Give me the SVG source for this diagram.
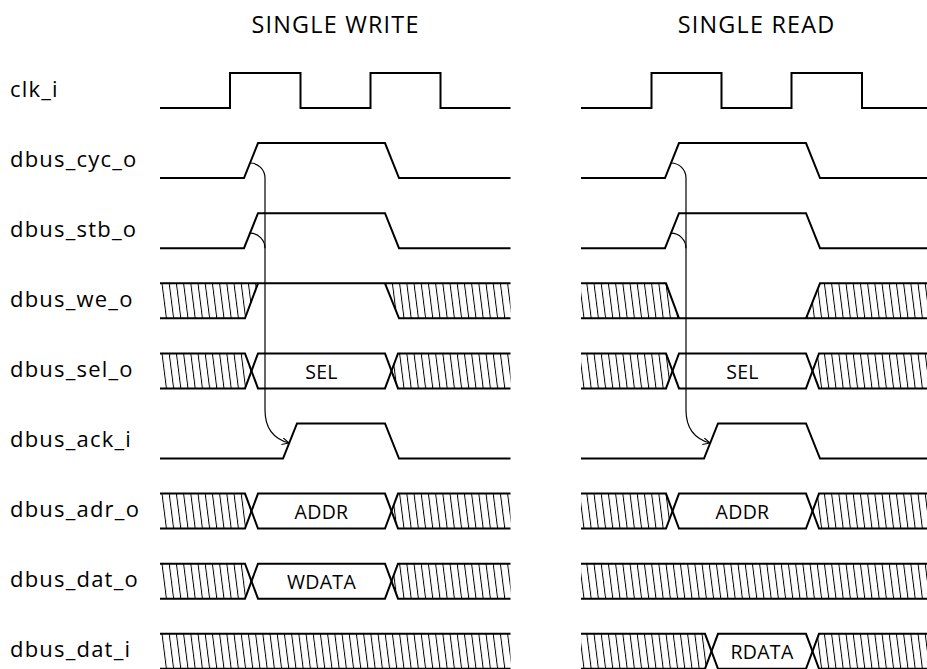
<svg xmlns="http://www.w3.org/2000/svg" width="927" height="669" viewBox="0 0 927 669">
<style>
text{font-family:"Open Sans","Noto Sans","DejaVu Sans",sans-serif;fill:#000}
.title{font-size:23.4px;letter-spacing:1.2px;text-anchor:middle}
.lbl{font-size:22px;letter-spacing:1.2px}
.val{font-size:19.5px;letter-spacing:0.3px;text-anchor:middle}
.sig{fill:none;stroke:#000;stroke-width:2;stroke-linejoin:miter}
.hatch{fill:url(#hatch);stroke:none}
.conn{fill:none;stroke:#000;stroke-width:1.2}
</style>
<defs>
<pattern id="hatch" patternUnits="userSpaceOnUse" width="7.2" height="10" patternTransform="translate(161.5,0) skewX(7.2)">
<line x1="0.5" y1="-1" x2="0.5" y2="11" stroke="#000" stroke-width="1"/>
</pattern>
<marker id="arr" markerUnits="userSpaceOnUse" markerWidth="10" markerHeight="10" refX="7" refY="3.5" orient="auto">
<path d="M0,0 L7,3.5 L0,7" fill="none" stroke="#000" stroke-width="1.1"/>
</marker>
</defs>
<rect width="927" height="669" fill="#fff"/>
<g id="titles">
<text class="title" x="335.6" y="33.3">SINGLE WRITE</text>
<text class="title" x="756.6" y="33.3">SINGLE READ</text>
</g>
<g id="clk_i" transform="translate(0,73)">
<text class="lbl" x="10" y="23.6">clk_i</text>
<path class="sig" d="M160,35 H230 V0 H300.5 V35 H370.5 V0 H440.5 V35 H510.5"/>
<path class="sig" d="M581,35 H651.5 V0 H721.5 V35 H791.5 V0 H862 V35 H931"/>
</g>
<g id="dbus_cyc_o" transform="translate(0,143.1)">
<text class="lbl" x="10" y="23.6">dbus_cyc_o</text>
<path class="sig" d="M160,35 H244 L258,0 H385 L399,35 H510.5"/>
<path class="sig" d="M581,35 H665 L679,0 H806 L820,35 H931"/>
</g>
<g id="dbus_stb_o" transform="translate(0,213.2)">
<text class="lbl" x="10" y="23.6">dbus_stb_o</text>
<path class="sig" d="M160,35 H244 L258,0 H385 L399,35 H510.5"/>
<path class="sig" d="M581,35 H665 L679,0 H806 L820,35 H931"/>
</g>
<g id="dbus_we_o" transform="translate(0,283.3)">
<text class="lbl" x="10" y="23.6">dbus_we_o</text>
<path class="hatch" d="M160,0 H258 L245,35 H160 Z M385,0 H510.5 V35 H399 Z"/>
<path class="sig" d="M160,0 H510.5"/>
<path class="sig" d="M160,35 H245 L258,0"/>
<path class="sig" d="M385,0 L399,35 H510.5"/>
<path class="hatch" d="M581,0 H666 L679,35 H581 Z M806,35 L820,0 H931 V35 Z"/>
<path class="sig" d="M581,0 H666 L679,35"/>
<path class="sig" d="M581,35 H931"/>
<path class="sig" d="M806,35 L820,0 H931"/>
</g>
<g id="dbus_sel_o" transform="translate(0,353.4)">
<text class="lbl" x="10" y="23.6">dbus_sel_o</text>
<path class="hatch" d="M160,0 H245 L251.5,17.5 L245,35 H160 Z M398,0 H510.5 V35 H398 L391.5,17.5 Z"/>
<path class="sig" d="M160,0 H245 L258,35 H385 L398,0 H510.5"/>
<path class="sig" d="M160,35 H245 L258,0 H385 L398,35 H510.5"/>
<text class="val" x="321.5" y="25.5">SEL</text>
<path class="hatch" d="M581,0 H666 L672.5,17.5 L666,35 H581 Z M819,0 H931 V35 H819 L812.5,17.5 Z"/>
<path class="sig" d="M581,0 H666 L679,35 H806 L819,0 H931"/>
<path class="sig" d="M581,35 H666 L679,0 H806 L819,35 H931"/>
<text class="val" x="742.5" y="25.5">SEL</text>
</g>
<g id="dbus_ack_i" transform="translate(0,423.5)">
<text class="lbl" x="10" y="23.6">dbus_ack_i</text>
<path class="sig" d="M160,35 H283 L297,0 H385 L399,35 H510.5"/>
<path class="sig" d="M581,35 H704 L718,0 H806 L820,35 H931"/>
</g>
<g id="dbus_adr_o" transform="translate(0,493.6)">
<text class="lbl" x="10" y="23.6">dbus_adr_o</text>
<path class="hatch" d="M160,0 H245 L251.5,17.5 L245,35 H160 Z M398,0 H510.5 V35 H398 L391.5,17.5 Z"/>
<path class="sig" d="M160,0 H245 L258,35 H385 L398,0 H510.5"/>
<path class="sig" d="M160,35 H245 L258,0 H385 L398,35 H510.5"/>
<text class="val" x="321.5" y="25.5">ADDR</text>
<path class="hatch" d="M581,0 H666 L672.5,17.5 L666,35 H581 Z M819,0 H931 V35 H819 L812.5,17.5 Z"/>
<path class="sig" d="M581,0 H666 L679,35 H806 L819,0 H931"/>
<path class="sig" d="M581,35 H666 L679,0 H806 L819,35 H931"/>
<text class="val" x="742.5" y="25.5">ADDR</text>
</g>
<g id="dbus_dat_o" transform="translate(0,563.7)">
<text class="lbl" x="10" y="23.6">dbus_dat_o</text>
<path class="hatch" d="M160,0 H245 L251.5,17.5 L245,35 H160 Z M398,0 H510.5 V35 H398 L391.5,17.5 Z"/>
<path class="sig" d="M160,0 H245 L258,35 H385 L398,0 H510.5"/>
<path class="sig" d="M160,35 H245 L258,0 H385 L398,35 H510.5"/>
<text class="val" x="321.5" y="25.5">WDATA</text>
<path class="hatch" d="M581,0 H931 V35 H581 Z"/>
<path class="sig" d="M581,0 H931"/>
<path class="sig" d="M581,35 H931"/>
</g>
<g id="dbus_dat_i" transform="translate(0,633.8)">
<text class="lbl" x="10" y="23.6">dbus_dat_i</text>
<path class="hatch" d="M160,0 H510.5 V35 H160 Z"/>
<path class="sig" d="M160,0 H510.5"/>
<path class="sig" d="M160,35 H510.5"/>
<path class="hatch" d="M581,0 H705 L711.5,17.5 L705,35 H581 Z M819,0 H931 V35 H819 L812.5,17.5 Z"/>
<path class="sig" d="M581,0 H705 L718,35 H806 L819,0 H931"/>
<path class="sig" d="M581,35 H705 L718,0 H806 L819,35 H931"/>
<text class="val" x="762" y="25.5">RDATA</text>
</g>
<g id="connectors">
<path class="conn" d="M250,163 A15,15 0 0 1 265,178 V410 C265,428 274,439 289,443" marker-end="url(#arr)"/>
<path class="conn" d="M250,233.2 A15,15 0 0 1 265,248.2"/>
<path class="conn" d="M671,163 A15,15 0 0 1 686,178 V410 C686,428 695,439 710,443" marker-end="url(#arr)"/>
<path class="conn" d="M671,233.2 A15,15 0 0 1 686,248.2"/>
</g>
</svg>
